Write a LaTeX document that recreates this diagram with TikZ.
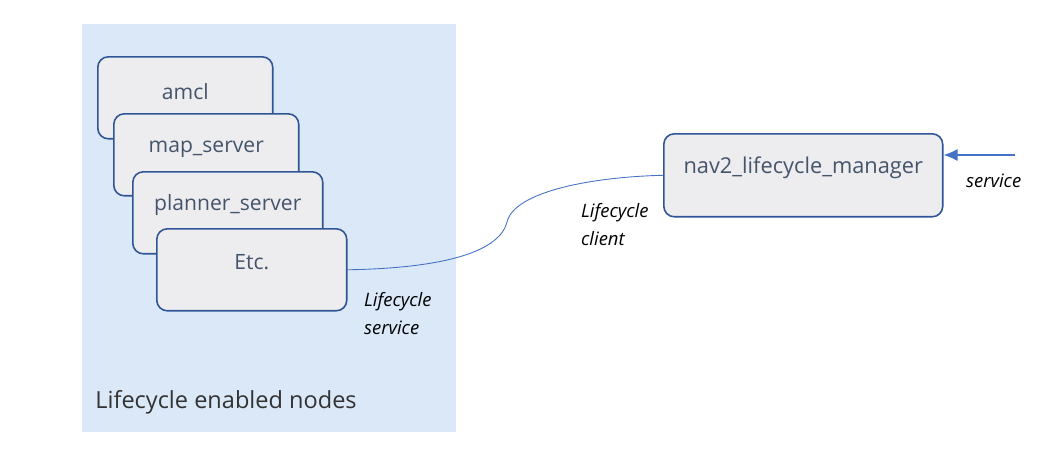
\documentclass[tikz,border=0pt]{standalone}
\usepackage{fontspec}
\setmainfont{Open Sans}
\usepackage{tikz}
\usetikzlibrary{arrows.meta,positioning,calc}
\definecolor{cPanel}{HTML}{DAE8F7}
\definecolor{cBox}{HTML}{EDEDEF}
\definecolor{cEdge}{HTML}{2F5597}
\definecolor{cLink}{HTML}{4472C4}
\definecolor{cText}{HTML}{44546A}
\tikzset{
  nodebox/.style={rounded corners=6pt, draw=cEdge, line width=0.9pt, fill=cBox,
                  anchor=north west, minimum height=1.64cm, inner sep=0pt},
  nodetext/.style={font=\fontsize{12}{14}\selectfont, text=cText, inner sep=1pt},
  lbl/.style={font=\fontsize{10.5}{16}\selectfont\itshape, text=black, align=left, inner sep=1pt},
  link/.style={draw=cLink, line width=0.5pt},
  svc/.style={-{Latex[length=2.8mm,width=2.4mm]}, draw=cLink, line width=0.7pt},
}

\begin{document}
\begin{tikzpicture}[x=0.02cm, y=-0.02cm]
  \useasboundingbox (0,0) rectangle (1064,451);
  % lifecycle group
  \fill[cPanel] (82,24) rectangle (456,432);
  \node[font=\fontsize{13.4}{15}\selectfont, text=black!80, anchor=west, inner sep=0pt] (grp) at (95,402) {Lifecycle enabled nodes};

  \node[nodebox, minimum width=3.5cm] (amcl) at (97,56) {};
  \node[nodetext] (amcltxt) at ([yshift=-0.72cm]amcl.north) {amcl};
  \node[nodebox, minimum width=3.7cm] (map) at (113,113) {};
  \node[nodetext] (maptxt) at ([yshift=-0.72cm]map.north) {map\_server};
  \node[nodebox, minimum width=3.8cm] (plan) at (132,171) {};
  \node[nodetext] (plantxt) at ([yshift=-0.68cm]plan.north) {planner\_server};
  \node[nodebox, minimum width=3.8cm] (etc) at (156,228) {};
  \node[nodetext] (etctxt) at ([yshift=-0.68cm]etc.north) {Etc.};

  % manager
  \node[nodebox, minimum width=5.58cm, minimum height=1.66cm] (mgr) at (663,133) {};
  \node[nodetext, font=\fontsize{12.4}{14}\selectfont] (mgrtxt) at ([yshift=-0.7cm]mgr.north) {nav2\_lifecycle\_manager};

  % connections
  \draw[link] (etc.east) .. controls (450,268) and (500,250) .. (507,222)
                         .. controls (514,192) and (590,177) .. (mgr.west);
  \coordinate (svcin) at (1015,155);
  \draw[svc] (svcin) -- (mgr.east |- svcin);

  \node[lbl, anchor=north west] (srvlbl) at (362,290) {Lifecycle\\service};
  \node[lbl, anchor=north west] (clilbl) at (579,201) {Lifecycle\\client};
  \node[lbl, anchor=west] (svclbl) at (964,181) {service};
\end{tikzpicture}
\end{document}
